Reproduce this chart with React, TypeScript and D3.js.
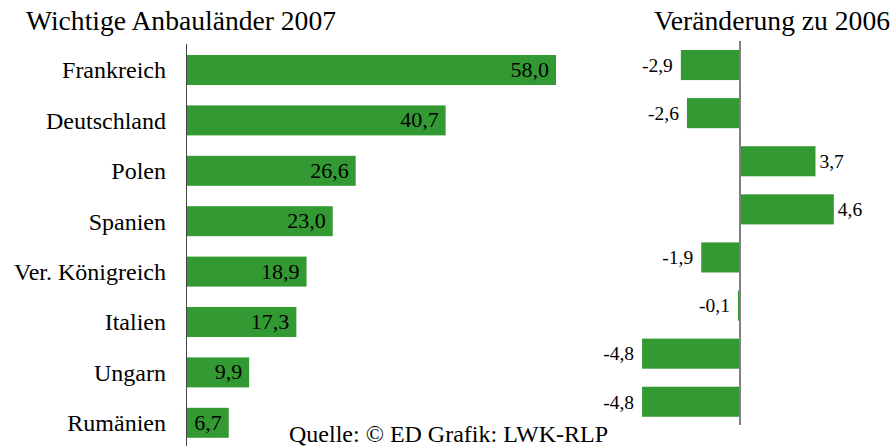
import React from 'react';
import * as d3 from 'd3';

const countries = ['Frankreich', 'Deutschland', 'Polen', 'Spanien', 'Ver. Königreich', 'Italien', 'Ungarn', 'Rumänien'];
const area2007 = [58.0, 40.7, 26.6, 23.0, 18.9, 17.3, 9.9, 6.7];
const change = [-2.9, -2.6, 3.7, 4.6, -1.9, -0.1, -4.8, -4.8];

const GREEN = '#339933';
const FONT = "'Liberation Serif', 'Times New Roman', Times, serif";
const fmt = (v: number) => v.toFixed(1).replace('.', ',');

const App = () => {
  const W = 891;
  const H = 446;

  // left panel
  const xL = d3.scaleLinear().domain([0, 58]).range([186, 556]);
  const yL = d3.scaleBand().domain(countries).range([44.8, 448]).paddingInner(0.405).paddingOuter(0.2025);

  // right panel
  const xR = d3.scaleLinear().domain([-5, 5]).range([638, 842]);
  const yR = d3.scaleBand().domain(countries).range([41, 425.8]).paddingInner(0.375).paddingOuter(0.1875);

  return (
    <svg width={W} height={H} style={{ position: 'absolute', left: 0, top: 0, background: '#fff', fontFamily: FONT }}>
      <text x={26} y={29.5} fontSize={27.6}>Wichtige Anbauländer 2007</text>
      <text x={890} y={29.5} fontSize={27.6} textAnchor="end">Veränderung zu 2006</text>

      {countries.map((c, i) => {
        const y = yL(c)!;
        return (
          <g key={c}>
            <rect x={xL(0)} y={y} width={xL(area2007[i]) - xL(0)} height={yL.bandwidth()} fill={GREEN} />
            <text x={166} y={y + yL.bandwidth() / 2} dy="0.35em" fontSize={24} textAnchor="end">{c}</text>
            <text x={xL(area2007[i]) - 7} y={y + yL.bandwidth() / 2} dy="0.32em" fontSize={22} textAnchor="end">{fmt(area2007[i])}</text>
          </g>
        );
      })}
      <line x1={186.5} x2={186.5} y1={44} y2={446} stroke="#444" strokeWidth={1} />

      {countries.map((c, i) => {
        const v = change[i];
        const y = yR(c)!;
        const x0 = xR(Math.min(0, v));
        const x1 = xR(Math.max(0, v));
        return (
          <g key={'r' + c}>
            <rect x={x0} y={y} width={x1 - x0} height={yR.bandwidth()} fill={GREEN} />
            <text
              x={v < 0 ? x0 - 8 : x1 + 4}
              y={y + yR.bandwidth() / 2}
              dy="0.35em"
              fontSize={19.5}
              textAnchor={v < 0 ? 'end' : 'start'}
            >{fmt(v)}</text>
          </g>
        );
      })}
      <line x1={xR(0)} x2={xR(0)} y1={41} y2={425} stroke="#808080" strokeWidth={2} />

      <text x={289} y={442} fontSize={24}>Quelle: © ED Grafik: LWK-RLP</text>
    </svg>
  );
};

export default App;
